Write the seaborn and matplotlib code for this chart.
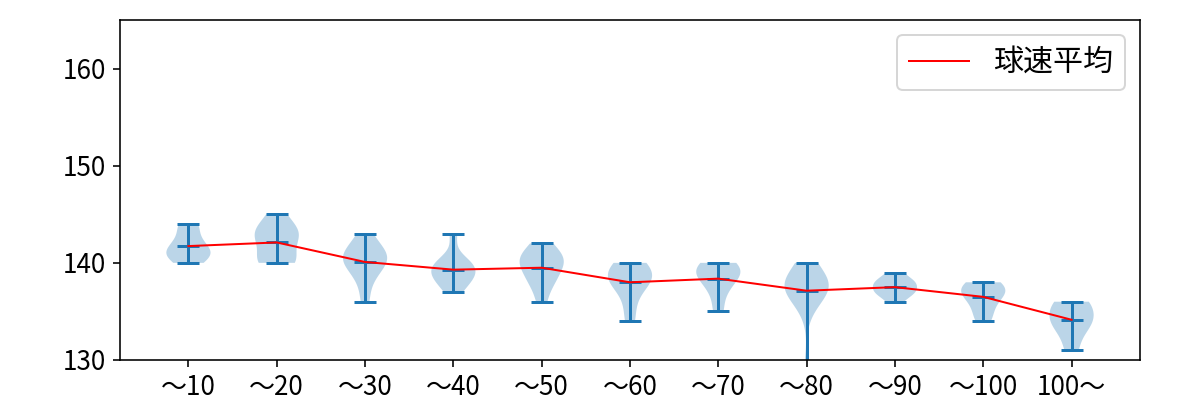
import numpy as np
import pandas as pd
import matplotlib
matplotlib.use("Agg")
import matplotlib.pyplot as plt
import seaborn as sns

categories = ["～10", "～20", "～30", "～40", "～50", "～60", "～70", "～80", "～90", "～100", "100～"]

speeds_10 = [140, 140, 141, 141, 141, 141, 142, 142, 143, 144, 144]
speeds_20 = [140, 140, 140, 141, 142, 143, 143, 143, 144, 145]
speeds_30 = [136, 138, 139, 140, 140, 140, 141, 141, 141, 142, 143]
speeds_40 = [137, 138, 138, 139, 139, 139, 140, 140, 140, 143]
speeds_50 = [136, 138, 138, 139, 140, 140, 140, 141, 141, 142]
speeds_60 = [134, 136, 138, 138, 138, 139, 139, 140, 140]
speeds_70 = [135, 137, 138, 139, 139, 139, 140, 140]
speeds_80 = [129, 135, 136, 137, 137, 137, 137, 138, 138, 138, 138, 138, 139, 140, 140]
speeds_90 = [136, 137, 137, 137, 138, 138, 138, 139]
speeds_100 = [134, 135, 136, 137, 137, 137, 138, 138]
speeds_100p = [131, 133, 134, 134, 135, 136, 136]

all_speeds = [speeds_10, speeds_20, speeds_30, speeds_40, speeds_50, speeds_60,
              speeds_70, speeds_80, speeds_90, speeds_100, speeds_100p]

plt.rcParams['font.family'] = ['Noto Sans CJK JP', 'DejaVu Sans']

fig = plt.figure(figsize=(1200 / 144, 400 / 144), dpi=144)
ax = fig.add_axes([0.1, 0.1, 0.85, 0.85])

positions = list(range(1, len(categories) + 1))
ax.violinplot(all_speeds, positions=positions, showmeans=True, showextrema=True)

rows = []
for pos, vals in zip(positions, all_speeds):
    for v in vals:
        rows.append({"pos": pos, "speed": v})
df = pd.DataFrame(rows)

sns.lineplot(data=df, x="pos", y="speed", estimator="mean", errorbar=None,
             color="red", linewidth=1.0, label="球速平均", ax=ax)

ax.set_xticks(positions)
ax.set_xticklabels(categories)
ax.set_ylim(130, 165)
ax.set_yticks([130, 140, 150, 160])
ax.tick_params(axis="both", labelsize=13)
ax.set_xlabel("")
ax.set_ylabel("")
ax.legend(loc="upper right", fontsize=15)

fig.savefig("out.png", dpi=144)
